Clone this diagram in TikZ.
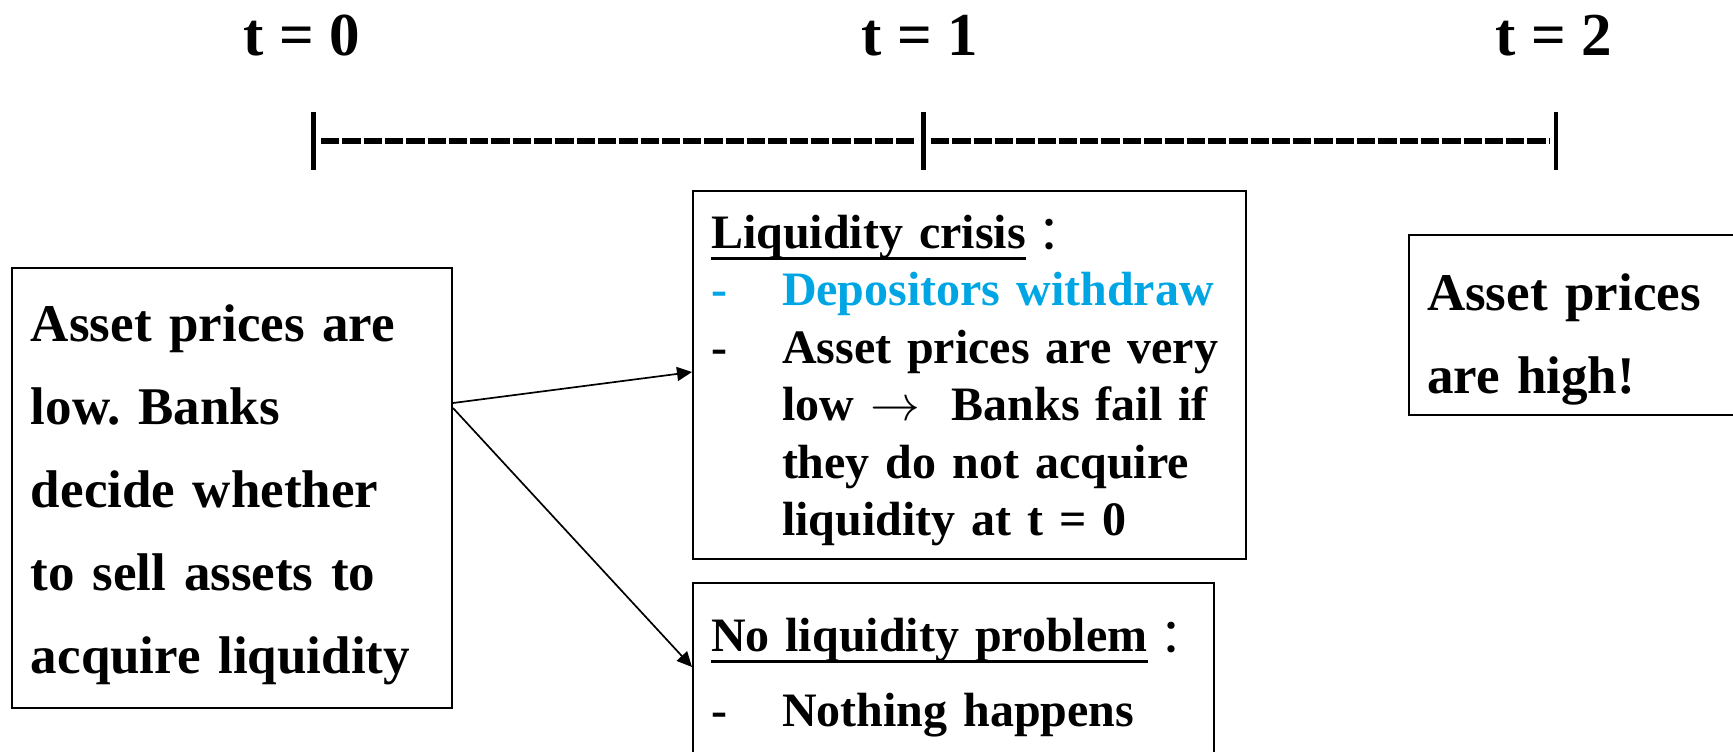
\documentclass[tikz,border=0pt]{standalone}
\usepackage{fontspec}
\setmainfont{Liberation Serif}
\newfontfamily\cjk{Noto Sans CJK TC}
\usetikzlibrary{arrows.meta}
\definecolor{Sky}{HTML}{00A6E3}
\frenchspacing
\newsavebox{\headbox}
\newcommand{\rulehead}[1]{\sbox{\headbox}{#1}\rlap{\rule[-5.75pt]{\wd\headbox}{1.5pt}}\usebox{\headbox}}
\newcommand{\fullcolon}{{\cjk\mdseries\raisebox{-2pt}{：}}}
\newcommand{\dashmark}{\makebox[35.5pt][l]{-}}
\newcommand{\dashgap}{\hspace*{35.5pt}}

\begin{document}
\begin{tikzpicture}[x=0.5pt, y=-0.5pt,
    box/.style={draw, line width=1pt, anchor=north west, align=left, inner ysep=0pt},
    big/.style={font=\fontsize{26.5pt}{41.5pt}\selectfont\bfseries},
    small/.style={font=\fontsize{24pt}{28.75pt}\selectfont\bfseries},
    stamp/.style={anchor=base, font=\fontsize{30.5pt}{36pt}\selectfont\bfseries},
    flow/.style={-{Triangle[length=7.5pt, width=7pt]}, line width=0.85pt},
    ticks/.style={line width=2.4pt},
    dots/.style={line width=3pt, dash pattern=on 9.15pt off 1.5pt}]
    \clip (0,0) rectangle (1733,751);

    \foreach \x/\n in {313.5/0, 923.5/1, 1556/2} {
      \coordinate (tick\n) at (\x,141);
      \draw[ticks] ([yshift=14.5pt]tick\n) -- ([yshift=-14.5pt]tick\n);
    }
    \draw[dots] ([xshift=3.75pt]tick0) -- ([xshift=-3.75pt]tick1);
    \draw[dots] ([xshift=3.75pt]tick1) -- ([xshift=-3.5pt]tick2);

    \node[stamp] (t0) at (302,55) {t = 0};
    \node[stamp] (t1) at (920,55) {t = 1};
    \node[stamp] (t2) at (1554,55) {t = 2};

    \node[box, big, inner xsep=9.5pt, text width=201pt, text height=36.5pt, text depth=183.5pt] (start) at (11,267) {
      Asset prices are\\
      low. Banks\\
      decide whether\\
      to sell assets to\\
      acquire liquidity};
    \node[box, small, inner xsep=9pt, text width=258.5pt, text height=28.5pt, text depth=155.5pt] (crisis) at (692,190) {
      \rulehead{Liquidity crisis}\fullcolon\\
      {\color{Sky}\dashmark Depositors withdraw}\\
      \dashmark Asset prices are very\\
      \dashgap low $\rightarrow$ \ Banks fail if\\
      \dashgap they do not acquire\\
      \dashgap liquidity at t = 0};
    \node[box, small, inner xsep=9pt, text width=242.5pt, text height=34pt, text depth=60pt] (calm) at (692,582) {
      \mbox{\rulehead{No liquidity problem}\fullcolon}\\[8.75pt]
      \dashmark Nothing happens};
    \node[box, big, inner xsep=9pt, text width=162pt, text height=37.5pt, text depth=52.5pt] (late) at (1408,234) {
      Asset prices\\
      are high!};

    \draw[flow] ([yshift=42.5pt]start.east) -- ([yshift=1.5pt]crisis.west);
    \draw[flow] ([yshift=40pt]start.east) -- ([yshift=-42.5pt]calm.north west);
  \end{tikzpicture}
\end{document}
